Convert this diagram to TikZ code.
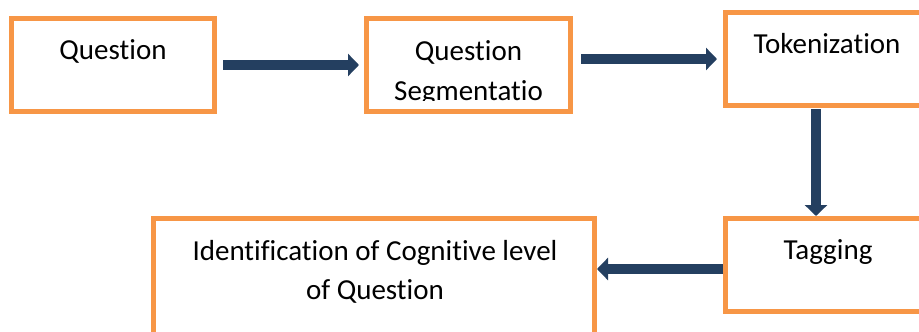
\documentclass[tikz,border=0pt]{standalone}
\usepackage{fontspec}
\setmainfont{Carlito}[RawFeature={-liga;-clig;-calt;-dlig}]
\usetikzlibrary{arrows.meta}
\definecolor{boxorange}{HTML}{F79646}
\definecolor{arrnavy}{HTML}{243F60}
\begin{document}
\begin{tikzpicture}[x=1pt,y=-1pt,
  box/.style={draw=boxorange, line width=5pt, fill=white, inner sep=0pt, rectangle},
  arr/.style={draw=arrnavy, line width=10pt, -{Triangle[width=22pt,length=11pt]}},
  txt/.style={font=\fontsize{29}{39}\selectfont, anchor=base, inner sep=0pt}]
\useasboundingbox (0,0) rectangle (919,332);
\clip (0,0) rectangle (919,332);
% boxes
\node[box, minimum width=203pt, minimum height=93pt] (q) at (113,65) {};
\node[box, minimum width=204pt, minimum height=93pt] (s) at (468.5,65) {};
\node[box, minimum width=219.5pt, minimum height=93pt] (t) at (835.25,59) {};
\node[box, minimum width=219.5pt, minimum height=93pt] (g) at (835.25,265) {};
\node[box, minimum width=441pt, minimum height=131.5pt] (id) at (374,284.25) {};
% texts
\node[txt] at (113,59) {Question};
\node[txt] at (468.5,60) {Question};
\begin{scope}
\clip (369,21) rectangle (568,100.5);
\node[txt] at (468.5,100) {Segmentatio};
\end{scope}
\node[txt] at (827,53) {Tokenization};
\node[txt] at (828,259) {Tagging};
\node[txt] at (375,260) {Identification of Cognitive level};
\node[txt] at (375,299) {of Question};
% arrows
\draw[arr] ([xshift=6pt]q.east) -- ([xshift=-5pt]s.west);
\draw[arr] ([xshift=8pt]s.east |- t.west) -- ([xshift=-6pt]t.west);
\draw[arr] ([xshift=93pt,yshift=-1pt]t.south west) -- ([xshift=93pt]g.north west);
\draw[arr] ([yshift=-4pt]g.west) -- ([yshift=-4pt]g.west -| id.east);
\end{tikzpicture}
\end{document}
